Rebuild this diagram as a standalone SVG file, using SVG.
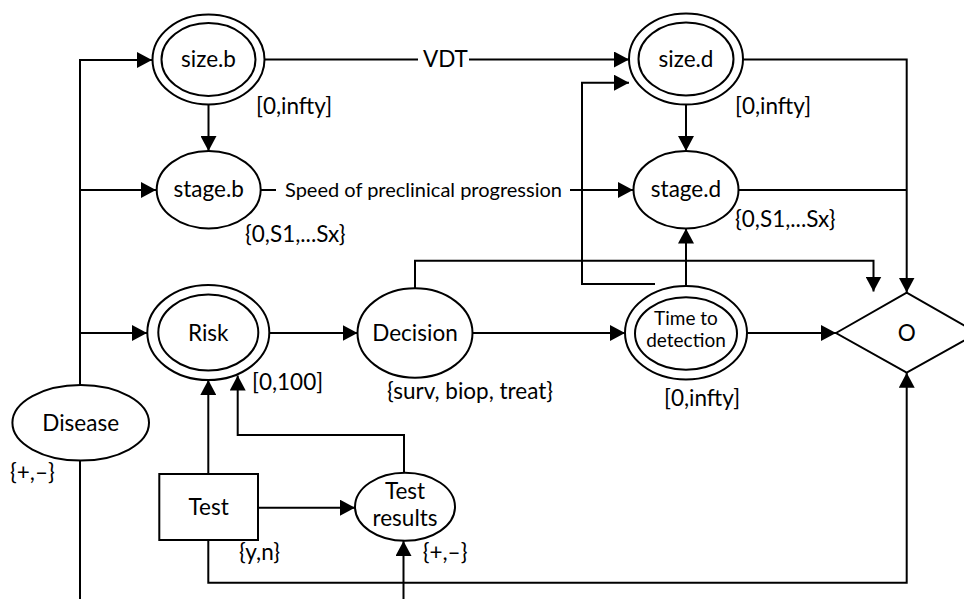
<svg xmlns="http://www.w3.org/2000/svg" width="964" height="599" viewBox="0 0 964 599">
<style>
  .n { fill: #fff; stroke: #000; stroke-width: 2; }
  .c { fill: none; stroke: #000; stroke-width: 2; }
  .a { marker-end: url(#arr); }
  text { font-family: Lato, "Open Sans", "Liberation Sans", sans-serif; fill: #000; }
  .t { font-size: 22.5px; text-anchor: middle; }
  .ts { font-size: 19px; text-anchor: middle; }
  .l { font-size: 22.5px; }
  .e { font-size: 20px; }
</style>
<defs>
  <marker id="arr" markerUnits="userSpaceOnUse" markerWidth="16" markerHeight="16" refX="15" refY="8" orient="auto">
    <path d="M0,0 L15,8 L0,16 z" fill="#000"/>
  </marker>
</defs>
<rect width="964" height="599" fill="#fff"/>
<g id="connectors">
  <path class="c a" d="M80,385 V60 H152"/>
  <path class="c a" d="M80,190 H156"/>
  <path class="c a" d="M80,333 H147"/>
  <path class="c" d="M80,461 V599"/>
  <path class="c a" d="M208.5,105 V151"/>
  <path class="c" d="M264,59.5 H418"/>
  <path class="c a" d="M469,59.5 H629"/>
  <path class="c" d="M261,190 H276"/>
  <path class="c a" d="M570,190 H633"/>
  <path class="c a" d="M686,104.5 V151"/>
  <path class="c a" d="M743,59.5 H906.7 V292.5"/>
  <path class="c" d="M738.5,190 H906.7"/>
  <path class="c a" d="M415,288 V260.7 H873.5 V291.5"/>
  <path class="c a" d="M269.3,333 H357.5"/>
  <path class="c a" d="M472.7,333 H625"/>
  <path class="c a" d="M686,286 V228.5"/>
  <path class="c a" d="M655,284 H582 V82.7 H629"/>
  <path class="c a" d="M746.7,333 H836"/>
  <path class="c a" d="M208.3,474 V380"/>
  <path class="c a" d="M404,473 V435 H237.7 V375.5"/>
  <path class="c a" d="M258,507.7 H355"/>
  <path class="c a" d="M208.3,540 V582.7 H906.7 V372.7"/>
  <path class="c a" d="M403.5,599 V541"/>
</g>
<g id="edge-labels">
  <text class="l" x="423" y="67">VDT</text>
  <text class="e" x="285" y="196.5">Speed of preclinical progression</text>
</g>
<g id="size_b">
  <ellipse class="n" cx="208.5" cy="59.5" rx="56" ry="45"/>
  <ellipse class="n" cx="208.5" cy="59.5" rx="47" ry="36.5"/>
  <text class="t" x="208.5" y="67">size.b</text>
  <text class="l" x="256" y="114">[0,infty]</text>
</g>
<g id="stage_b">
  <ellipse class="n" cx="208.7" cy="189.7" rx="52" ry="38.7"/>
  <text class="t" x="208.7" y="197">stage.b</text>
  <text class="l" x="245" y="242">{0,S1,...Sx}</text>
</g>
<g id="size_d">
  <ellipse class="n" cx="686" cy="59" rx="57" ry="45.5"/>
  <ellipse class="n" cx="686" cy="59" rx="47.5" ry="36.5"/>
  <text class="t" x="686" y="67">size.d</text>
  <text class="l" x="735" y="114">[0,infty]</text>
</g>
<g id="stage_d">
  <ellipse class="n" cx="686" cy="189.7" rx="52.5" ry="38.7"/>
  <text class="t" x="686" y="197">stage.d</text>
  <text class="l" x="735" y="227">{0,S1,...Sx}</text>
</g>
<g id="risk">
  <ellipse class="n" cx="208.3" cy="332.5" rx="61" ry="47.5"/>
  <ellipse class="n" cx="208.3" cy="332.5" rx="50" ry="38"/>
  <text class="t" x="208.3" y="341">Risk</text>
  <text class="l" x="252" y="390">[0,100]</text>
</g>
<g id="decision">
  <ellipse class="n" cx="415" cy="333" rx="57.5" ry="44.7"/>
  <text class="t" x="415" y="341">Decision</text>
  <text class="l" x="387" y="399">{surv, biop, treat}</text>
</g>
<g id="time_to_detection">
  <ellipse class="n" cx="686" cy="332.7" rx="61" ry="46.7"/>
  <ellipse class="n" cx="686" cy="333.5" rx="51" ry="36.3"/>
  <text class="ts" x="686" y="325">Time to</text>
  <text class="ts" x="686" y="347">detection</text>
  <text class="l" x="664" y="406">[0,infty]</text>
</g>
<g id="o">
  <path class="n" d="M836,333 L906.7,292.7 L977.4,333 L906.7,372.7 z"/>
  <text class="t" x="906.7" y="340.5">O</text>
</g>
<g id="disease">
  <ellipse class="n" cx="80.7" cy="422.8" rx="68.3" ry="37.8"/>
  <text class="t" x="80.7" y="430.5">Disease</text>
  <text class="l" x="10" y="480">{+,–}</text>
</g>
<g id="test">
  <rect class="n" x="159.3" y="474" width="98.7" height="66"/>
  <text class="t" x="208.7" y="514.5">Test</text>
  <text class="l" x="239" y="560">{y,n}</text>
</g>
<g id="test_results">
  <ellipse class="n" cx="405" cy="506.8" rx="50" ry="34"/>
  <text class="t" x="405" y="499.3">Test</text>
  <text class="t" x="405" y="525.7">results</text>
  <text class="l" x="422.7" y="560">{+,–}</text>
</g>
</svg>
